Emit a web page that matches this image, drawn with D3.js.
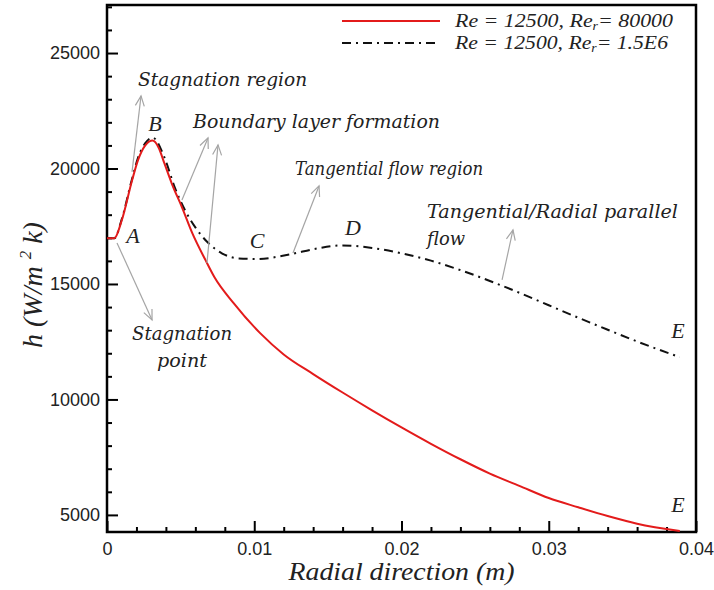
<!DOCTYPE html>
<html><head><meta charset="utf-8">
<script src="https://cdn.jsdelivr.net/npm/d3@7"></script>
<style>body{margin:0;background:#fff} svg{display:block}</style>
</head><body><svg id="c" width="714" height="590"></svg>
<script>
// ---- data ----
const xRed = [0, 0.0005, 0.001, 0.0017, 0.0021, 0.0026, 0.0031, 0.0035, 0.0039, 0.0044, 0.0051, 0.0058, 0.0067, 0.0073, 0.0086, 0.0104, 0.012, 0.014, 0.016, 0.018, 0.02, 0.022, 0.024, 0.026, 0.028, 0.03, 0.032, 0.034, 0.036, 0.0389];
const hRed = [16975, 16980, 17750, 19480, 20350, 21000, 21210, 20910, 20220, 19350, 18310, 17190, 16020, 15290, 14170, 12870, 11950, 11100, 10300, 9530, 8790, 8080, 7410, 6790, 6260, 5730, 5330, 4950, 4620, 4300];
const xBlack = [0, 0.0005, 0.001, 0.0017, 0.0021, 0.0026, 0.0031, 0.0039, 0.0046, 0.0053, 0.006, 0.0069, 0.0078, 0.0089, 0.0102, 0.0124, 0.0143, 0.016, 0.018, 0.02, 0.022, 0.024, 0.026, 0.028, 0.03, 0.032, 0.034, 0.036, 0.0389];
const hBlack = [16975, 16980, 17800, 19550, 20450, 21100, 21340, 20480, 19180, 18190, 17450, 16760, 16330, 16110, 16080, 16280, 16540, 16670, 16560, 16330, 16010, 15600, 15130, 14620, 14080, 13540, 13020, 12510, 11830];
const seriesNames = [["Re = 12500, Re", "r", "= 80000"], ["Re = 12500, Re", "r", "= 1.5E6"]];
const legendWidths = [218, 213];
const xMajor = [0, 0.01, 0.02, 0.03, 0.04];
const xMajorLabels = ["0", "0.01", "0.02", "0.03", "0.04"];
const yMajor = [5000, 10000, 15000, 20000, 25000];
const yMajorLabels = ["5000", "10000", "15000", "20000", "25000"];
const xTitle = "Radial direction (m)";
// annotation texts (data coords)
const notes = [
  {t: "Stagnation region", x: 0.00211, y: 23576, w: 169},
  {t: "Boundary layer formation", x: 0.00584, y: 21757, w: 247},
  {t: "Tangential flow region", x: 0.01277, y: 19722, w: 188},
  {t: "Tangential/Radial parallel", x: 0.02173, y: 17859, w: 251},
  {t: "flow", x: 0.02173, y: 16690, w: 38},
  {t: "Stagnation", x: 0.00170, y: 12576, w: 100},
  {t: "point", x: 0.00340, y: 11406, w: 50}
];
const letters = [
  {t: "A", x: 0.00177, y: 16777}, {t: "B", x: 0.00326, y: 21627},
  {t: "C", x: 0.01019, y: 16560}, {t: "D", x: 0.01671, y: 17123},
  {t: "E", x: 0.03878, y: 12662}, {t: "E", x: 0.03878, y: 5126}
];
const arrows = [
  [0.0017, 19852, 0.00231, 23143],
  [0.00509, 18639, 0.00686, 21324],
  [0.00679, 15910, 0.00754, 21021],
  [0.01263, 16343, 0.0144, 19245],
  [0.02683, 15174, 0.02757, 17340],
  [0.00068, 16777, 0.00306, 13442]
];

// ---- chart ----
const svg = d3.select('#c');
const x = d3.scaleLinear().domain([0, 0.04]).range([107, 696]);
const y = d3.scaleLinear().domain([4260, 27080]).range([532, 5]);
const serif = "DejaVu Serif";
const serif2 = "Liberation Serif";
const sans = "Liberation Sans";

// minor ticks
const xMinor = d3.range(0, 0.0401, 0.002).filter(v => !xMajor.some(m => Math.abs(m - v) < 1e-9));
const yMinor = d3.range(5000, 27080, 1000).filter(v => v % 5000 !== 0);

const gxm = svg.append('g').attr('transform', 'translate(0,532)')
  .call(d3.axisBottom(x).tickValues(xMinor).tickSize(-5).tickFormat(''));
const gx = svg.append('g').attr('transform', 'translate(0,532)')
  .call(d3.axisBottom(x).tickValues(xMajor).tickSize(-11).tickPadding(10)
    .tickFormat((d, i) => xMajorLabels[i]));
const gym = svg.append('g').attr('transform', 'translate(107,0)')
  .call(d3.axisLeft(y).tickValues(yMinor).tickSize(-5).tickFormat(''));
const gy = svg.append('g').attr('transform', 'translate(107,0)')
  .call(d3.axisLeft(y).tickValues(yMajor).tickSize(-11).tickPadding(7)
    .tickFormat((d, i) => yMajorLabels[i]));
[gxm, gx, gym, gy].forEach(g => {
  g.select('.domain').remove();
  g.selectAll('line').attr('stroke', '#000').attr('stroke-width', 2);
  g.selectAll('text').attr('font-family', sans).attr('font-size', 18).attr('fill', '#222');
});
gx.selectAll('text').attr('dy', '0.71em');

// frame
svg.append('rect').attr('x', x(0)).attr('y', y(27080))
  .attr('width', x(0.04) - x(0)).attr('height', y(4260) - y(27080))
  .attr('fill', 'none').attr('stroke', '#000').attr('stroke-width', 2.5);

// curves
const line = d3.line().x(d => x(d[0])).y(d => y(d[1])).curve(d3.curveMonotoneX);
const redPts = xRed.map((v, i) => [v, hRed[i]]);
const blackPts = xBlack.map((v, i) => [v, hBlack[i]]);
svg.append('path').attr('d', line(blackPts)).attr('fill', 'none')
  .attr('stroke', '#111').attr('stroke-width', 2).attr('stroke-dasharray', '9,5,2,5');
svg.append('path').attr('d', line(redPts)).attr('fill', 'none')
  .attr('stroke', '#e31b1b').attr('stroke-width', 2);

// arrows
const ag = svg.append('g').attr('stroke', '#a5a5a5').attr('stroke-width', 1.2).attr('fill', 'none');
arrows.forEach(a => {
  const x1 = x(a[0]), y1 = y(a[1]), x2 = x(a[2]), y2 = y(a[3]);
  const ang = Math.atan2(y1 - y2, x1 - x2), L = 11, s = 0.42;
  ag.append('line').attr('x1', x1).attr('y1', y1).attr('x2', x2).attr('y2', y2);
  ag.append('path').attr('d',
    `M${x2 + L * Math.cos(ang + s)},${y2 + L * Math.sin(ang + s)}L${x2},${y2}L${x2 + L * Math.cos(ang - s)},${y2 + L * Math.sin(ang - s)}`);
});

// annotation texts
svg.append('g').selectAll('text').data(notes).join('text')
  .attr('x', d => x(d.x)).attr('y', d => y(d.y))
  .attr('font-family', serif).attr('font-style', 'italic').attr('font-size', 18)
  .attr('fill', '#222').attr('textLength', d => d.w).attr('lengthAdjust', 'spacingAndGlyphs')
  .text(d => d.t);
svg.append('g').selectAll('text').data(letters).join('text')
  .attr('x', d => x(d.x)).attr('y', d => y(d.y)).attr('text-anchor', 'middle')
  .attr('font-family', serif2).attr('font-style', 'italic').attr('font-size', 22)
  .attr('fill', '#222').text(d => d.t);

// legend
const leg = svg.append('g');
[0, 1].forEach(i => {
  const yy = 21 + i * 22;
  const l = leg.append('line').attr('x1', 342).attr('x2', 440).attr('y1', yy).attr('y2', yy)
    .attr('stroke-width', 2);
  if (i === 0) l.attr('stroke', '#e31b1b');
  else l.attr('stroke', '#111').attr('stroke-dasharray', '9,5,2,5');
  const t = leg.append('text').attr('x', 455).attr('y', yy + 6)
    .attr('font-family', serif2).attr('font-style', 'italic').attr('font-size', 19).attr('fill', '#222')
    .attr('textLength', legendWidths[i]).attr('lengthAdjust', 'spacingAndGlyphs');
  t.append('tspan').text(seriesNames[i][0]);
  t.append('tspan').attr('font-size', 12).attr('dy', 3).text(seriesNames[i][1]);
  t.append('tspan').attr('dy', -3).text(seriesNames[i][2]);
});

// axis titles
svg.append('text').attr('x', (x(0) + x(0.04)) / 2).attr('y', 580).attr('text-anchor', 'middle')
  .attr('font-family', serif2).attr('font-style', 'italic').attr('font-size', 26).attr('fill', '#222')
  .attr('textLength', 226).attr('lengthAdjust', 'spacingAndGlyphs').text(xTitle);
const yt = svg.append('text').attr('transform', 'translate(42,285) rotate(-90)').attr('text-anchor', 'middle')
  .attr('font-family', serif2).attr('font-style', 'italic').attr('font-size', 28).attr('fill', '#222');
yt.append('tspan').text('h (W/m ');
yt.append('tspan').attr('font-size', 17).attr('dy', -11).text('2');
yt.append('tspan').attr('dy', 11).text(' k)');
</script></body></html>
